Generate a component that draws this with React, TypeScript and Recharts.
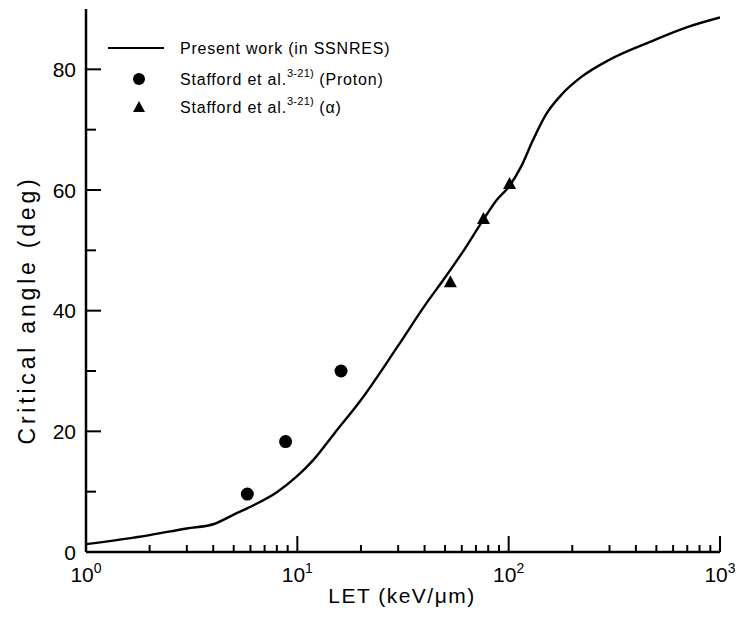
import React from 'react';
import { ComposedChart, Line, Scatter, XAxis, YAxis, Legend } from 'recharts';

// ---- data ----
const curveLET = [1, 2, 3, 4, 5, 6, 8, 10, 12, 15, 20, 30, 40, 50, 60, 75, 88, 100, 115, 130, 150, 180, 220, 300, 470, 700, 1000];
const curveAngle = [1.3, 2.8, 3.9, 4.6, 6.2, 7.5, 9.9, 12.6, 15.4, 19.7, 25.2, 34.2, 40.8, 45.5, 49.5, 54.8, 58.4, 60.5, 64, 68.2, 72.5, 76, 78.7, 81.6, 84.6, 87, 88.6];

const protonLET = [5.8, 8.8, 16.1];
const protonAngle = [9.6, 18.3, 30.0];

const alphaLET = [53, 76, 101];
const alphaAngle = [44.7, 55.2, 61.0];

const xMajorTicks = [1, 10, 100, 1000];
const xMinorTicks = [2, 3, 4, 5, 6, 7, 8, 9, 20, 30, 40, 50, 60, 70, 80, 90, 200, 300, 400, 500, 600, 700, 800, 900];
const yMajorTicks = [0, 20, 40, 60, 80];
const yMinorTicks = [10, 30, 50, 70];

const legendLabels = ['Present work (in SSNRES)', 'Stafford et al.', 'Stafford et al.'];
const legendRefs = ['3-21)', '3-21)'];
const legendSuffix = [' (Proton)', ' (α)'];

const xLabel = 'LET  (keV/μm)';
const yLabel = 'Critical angle  (deg)';

// ---- derived ----
const curveData = curveLET.map((x, i) => ({ x, y: curveAngle[i] }));
const protonData = protonLET.map((x, i) => ({ x, y: protonAngle[i] }));
const alphaData = alphaLET.map((x, i) => ({ x, y: alphaAngle[i] }));
const allXTicks = [...xMajorTicks, ...xMinorTicks].sort((a, b) => a - b);
const allYTicks = [...yMajorTicks, ...yMinorTicks].sort((a, b) => a - b);

const font = '"Liberation Sans", Arial, Helvetica, sans-serif';
const W = 727;
const H = 609;

const BottomTick = (props: any) => {
  const { x, y, payload } = props;
  const v = payload.value;
  const major = xMajorTicks.includes(v);
  const len = major ? 16 : 7;
  return (
    <g>
      <line x1={x} y1={y} x2={x} y2={y - len} stroke="#000" strokeWidth={2} />
      {major && (
        <text x={x} y={y + 30} textAnchor="middle" fontSize={21} fontFamily={font} fill="#000">
          10<tspan dy={-9} fontSize={14}>{Math.round(Math.log10(v))}</tspan>
        </text>
      )}
    </g>
  );
};

const TopTick = (props: any) => {
  const { x, y, payload } = props;
  const major = xMajorTicks.includes(payload.value);
  const len = major ? 16 : 7;
  return <line x1={x} y1={y} x2={x} y2={y + len} stroke="#000" strokeWidth={2} />;
};

const LeftTick = (props: any) => {
  const { x, y, payload } = props;
  const major = yMajorTicks.includes(payload.value);
  const len = major ? 15 : 10;
  return (
    <g>
      <line x1={x} y1={y} x2={x + len} y2={y} stroke="#000" strokeWidth={2} />
      {major && (
        <text x={x - 10} y={y + 7.5} textAnchor="end" fontSize={21} fontFamily={font} fill="#000">
          {payload.value}
        </text>
      )}
    </g>
  );
};

const RightTick = (props: any) => {
  const { x, y, payload } = props;
  const major = yMajorTicks.includes(payload.value);
  const len = major ? 15 : 10;
  return <line x1={x} y1={y} x2={x - len} y2={y} stroke="#000" strokeWidth={2} />;
};

const XTitle = () => (
  <text x={394} y={595} textAnchor="middle" fontSize={21} letterSpacing={1.5} fontFamily={font} fill="#000">
    {xLabel}
  </text>
);

const YTitle = () => (
  <text
    x={19}
    y={302}
    transform="rotate(-90 19 302)"
    textAnchor="middle"
    dominantBaseline="central"
    fontSize={23}
    letterSpacing={3.8}
    fontFamily={font}
    fill="#000"
  >
    {yLabel}
  </text>
);

const LegendBox = () => (
  <svg width={340} height={100} style={{ display: 'block' }}>
    <g fontFamily={font} fontSize={16} fill="#000" letterSpacing={0.8}>
      <line x1={10} y1={20} x2={66} y2={20} stroke="#000" strokeWidth={2.2} />
      <text x={82} y={26}>{legendLabels[0]}</text>
      <circle cx={41} cy={51} r={6} fill="#000" />
      <text x={82} y={57}>
        {legendLabels[1]}
        <tspan dy={-8} fontSize={11} letterSpacing={0.3}>{legendRefs[0]}</tspan>
        <tspan dy={8}>{legendSuffix[0]}</tspan>
      </text>
      <polygon points="35,84 47,84 41,73" fill="#000" />
      <text x={82} y={85}>
        {legendLabels[2]}
        <tspan dy={-8} fontSize={11} letterSpacing={0.3}>{legendRefs[1]}</tspan>
        <tspan dy={8}>{legendSuffix[1]}</tspan>
      </text>
    </g>
  </svg>
);

const CircleShape = (props: any) => <circle cx={props.cx} cy={props.cy} r={6.5} fill="#000" />;
const TriangleShape = (props: any) => {
  const { cx, cy } = props;
  return <polygon points={`${cx - 6.5},${cy + 5} ${cx + 6.5},${cy + 5} ${cx},${cy - 7}`} fill="#000" />;
};

export default function App() {
  return (
    <div style={{ width: W, height: H, background: '#fff' }}>
      <ComposedChart width={W} height={H} margin={{ top: 1, right: 15, bottom: 0, left: 0 }}>
        <XAxis
          xAxisId="b"
          dataKey="x"
          type="number"
          scale="log"
          domain={[1, 1000]}
          allowDataOverflow
          ticks={allXTicks}
          interval={0}
          tickSize={0}
          tickMargin={0}
          tickLine={false}
          tick={<BottomTick />}
          height={65}
          axisLine={{ stroke: '#000', strokeWidth: 2.5 }}
          label={<XTitle />}
        />
        <XAxis
          xAxisId="t"
          orientation="top"
          dataKey="x"
          type="number"
          scale="log"
          domain={[1, 1000]}
          allowDataOverflow
          ticks={allXTicks}
          interval={0}
          tickSize={0}
          tickMargin={0}
          tickLine={false}
          tick={<TopTick />}
          height={0}
          axisLine={{ stroke: '#000', strokeWidth: 2.5 }}
        />
        <YAxis
          yAxisId="l"
          dataKey="y"
          type="number"
          domain={[0, 90]}
          allowDataOverflow
          ticks={allYTicks}
          interval={0}
          tickSize={0}
          tickMargin={0}
          tickLine={false}
          tick={<LeftTick />}
          width={78}
          axisLine={{ stroke: '#000', strokeWidth: 2.5 }}
          label={<YTitle />}
        />
        <YAxis
          yAxisId="r"
          orientation="right"
          dataKey="y"
          type="number"
          domain={[0, 90]}
          allowDataOverflow
          ticks={allYTicks}
          interval={0}
          tickSize={0}
          tickMargin={0}
          tickLine={false}
          tick={<RightTick />}
          width={0}
          axisLine={{ stroke: '#000', strokeWidth: 2.5 }}
        />
        <Line
          xAxisId="b"
          yAxisId="l"
          data={curveData}
          dataKey="y"
          type="monotone"
          stroke="#000"
          strokeWidth={2.4}
          dot={false}
          activeDot={false}
          isAnimationActive={false}
        />
        <Scatter
          xAxisId="b"
          yAxisId="l"
          data={protonData}
          dataKey="y"
          shape={<CircleShape />}
          isAnimationActive={false}
        />
        <Scatter
          xAxisId="b"
          yAxisId="l"
          data={alphaData}
          dataKey="y"
          shape={<TriangleShape />}
          isAnimationActive={false}
        />
        <Legend
          layout="horizontal"
          verticalAlign="middle"
          align="center"
          wrapperStyle={{ position: 'absolute', left: 90, top: 20, width: 340, height: 100 }}
          content={() => <LegendBox />}
        />
      </ComposedChart>
    </div>
  );
}
